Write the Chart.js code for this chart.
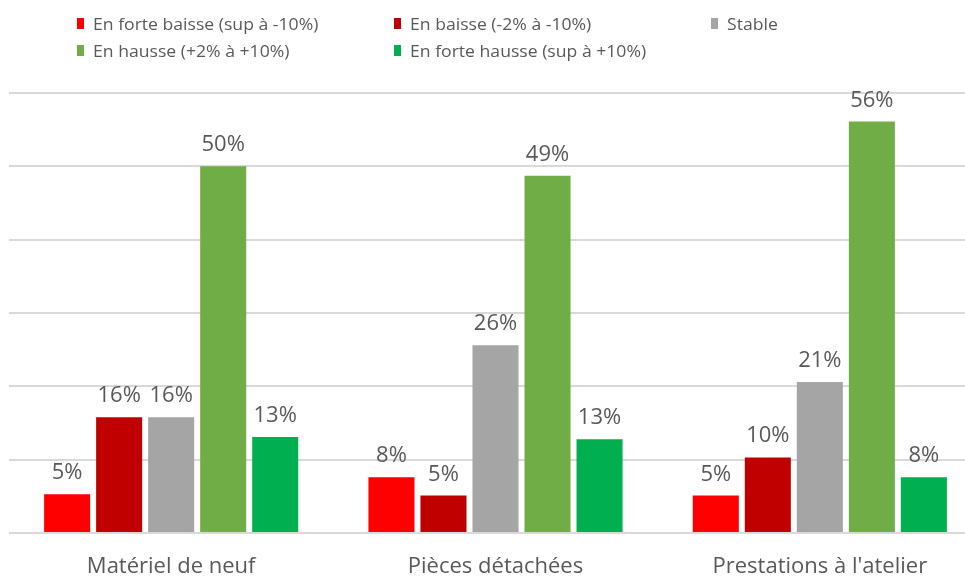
<!DOCTYPE html>
<html>
<head>
<meta charset="utf-8">
<script src="https://cdn.jsdelivr.net/npm/chart.js@4.4.1/dist/chart.umd.min.js"></script>
<style>
  html, body { margin: 0; padding: 0; background: #fff; overflow: hidden; }
  #wrap { width: 982px; height: 576px; position: relative; }
</style>
</head>
<body>
<div id="wrap"><canvas id="chart"></canvas></div>
<script>
// Categories and series (percent)
const categories = ['Matériel de neuf', 'Pièces détachées', "Prestations à l'atelier"];
const seriesLabels = [
    'En forte baisse (sup à -10%)',
    'En baisse (-2% à -10%)',
    'Stable',
    'En hausse (+2% à +10%)',
    'En forte hausse (sup à +10%)'
];
const forteBaisse = [5.3, 7.6, 5.1];
const baisse = [15.8, 5.1, 10.3];
const stable = [15.8, 25.6, 20.6];
const hausse = [50.0, 48.7, 56.1];
const forteHausse = [13.1, 12.8, 7.6];
const seriesColors = ['#FF0000', '#C00000', '#A5A5A5', '#70AD47', '#00B050'];

const allSeries = [forteBaisse, baisse, stable, hausse, forteHausse];

// value labels above bars
const valueLabels = {
    id: 'valueLabels',
    afterDatasetsDraw(chart) {
        const ctx = chart.ctx;
        ctx.save();
        ctx.font = '22px "Open Sans"';
        ctx.fillStyle = '#595959';
        ctx.textAlign = 'center';
        ctx.textBaseline = 'alphabetic';
        chart.data.datasets.forEach((ds, i) => {
            const meta = chart.getDatasetMeta(i);
            meta.data.forEach((bar, j) => {
                ctx.fillText(Math.round(ds.data[j]) + '%', bar.x, bar.y - 15);
            });
        });
        ctx.restore();
    }
};

// legend laid out in fixed columns, 3 per row
const gridLegend = {
    id: 'gridLegend',
    afterDraw(chart) {
        const ctx = chart.ctx;
        ctx.save();
        ctx.font = '16px "Open Sans"';
        ctx.textBaseline = 'middle';
        chart.data.datasets.forEach((ds, i) => {
            const col = i % 3;
            const row = Math.floor(i / 3);
            const x = 77 + col * 317;
            const y = 24 + row * 27;
            ctx.fillStyle = ds.backgroundColor;
            ctx.fillRect(x, y - 6, 7, 11);
            ctx.fillStyle = '#595959';
            ctx.save();
            ctx.translate(x + 16, y + 1);
            ctx.scale(1.1, 1);
            ctx.fillText(ds.label, 0, 0);
            ctx.restore();
        });
        ctx.restore();
    }
};

new Chart(document.getElementById('chart'), {
    type: 'bar',
    data: {
        labels: categories,
        datasets: allSeries.map((d, i) => ({
            label: seriesLabels[i],
            data: d,
            backgroundColor: seriesColors[i],
            borderWidth: 0,
            categoryPercentage: 0.802,
            barPercentage: 0.885
        }))
    },
    options: {
        responsive: true,
        maintainAspectRatio: false,
        animation: false,
        layout: { padding: { top: 93, left: 9, right: 0, bottom: 0 } },
        plugins: {
            legend: { display: false },
            tooltip: { enabled: false }
        },
        scales: {
            x: {
                grid: { display: false },
                border: { display: false },
                afterFit(scale) { scale.height = 43; },
                ticks: {
                    color: '#595959',
                    font: { family: 'Open Sans', size: 22, lineHeight: 1 },
                    padding: 15
                }
            },
            y: {
                min: 0,
                max: 60,
                ticks: { display: false, stepSize: 10 },
                grid: { color: '#D9D9D9', lineWidth: 2, drawTicks: false },
                border: { display: false }
            }
        }
    },
    plugins: [valueLabels, gridLegend]
});
</script>
</body>
</html>
